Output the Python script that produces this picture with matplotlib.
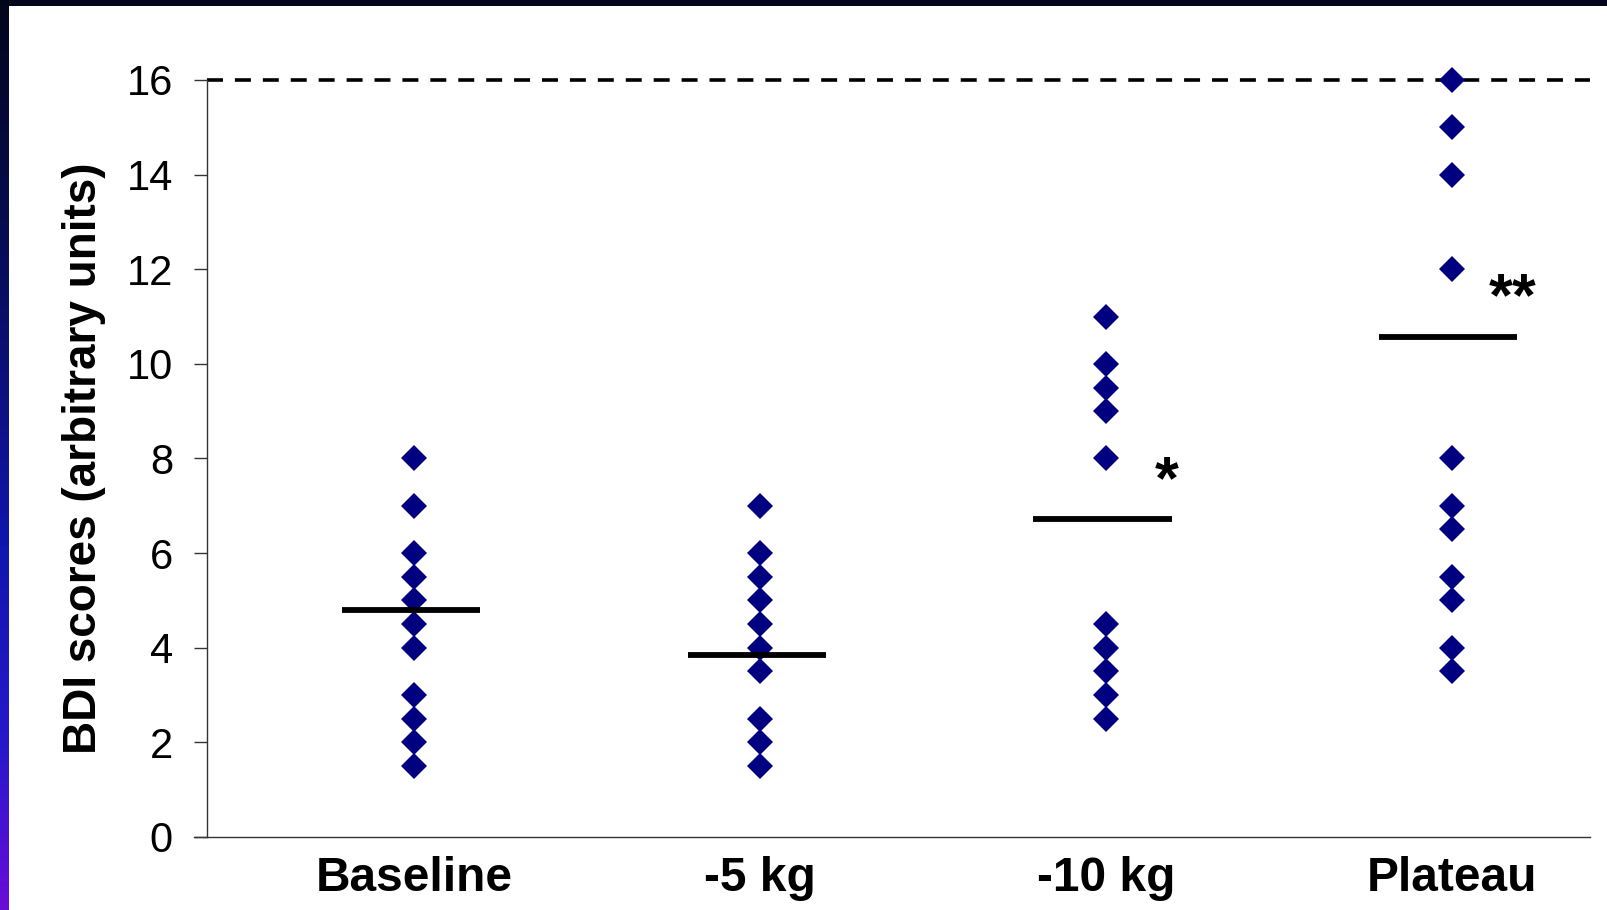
import numpy as np
import matplotlib.pyplot as plt
from matplotlib.colors import LinearSegmentedColormap
from matplotlib.patches import Rectangle

plt.rcParams['font.family'] = ['Liberation Sans', 'DejaVu Sans']
plt.rcParams['lines.scale_dashes'] = False

# data
groups = ['Baseline', '-5 kg', '-10 kg', 'Plateau']
baseline = [8, 7, 6, 5.5, 5, 4.5, 4, 3, 2.5, 2, 1.5]
minus5 = [7, 6, 5.5, 5, 4.5, 4, 3.5, 2.5, 2, 1.5]
minus10 = [11, 10, 9.5, 9, 8, 4.5, 4, 3.5, 3, 2.5]
plateau = [16, 15, 14, 12, 8, 7, 6.5, 5.5, 5, 4, 3.5]
means = [4.8, 3.85, 6.72, 10.56]
stars = ['', '', '*', '**']
star_y = [0, 0, 7.17, 11.02]
cutoff = 16

W, H = 1608, 910
fig = plt.figure(figsize=(W / 100, H / 100), dpi=100)
fig.patch.set_facecolor('white')

# slide frame: dark top band and gradient strip on the left
fig.patches.append(Rectangle((0, 1 - 6 / H), 1, 6 / H, transform=fig.transFigure,
                             facecolor='#02061a', edgecolor='none', zorder=0))
strip = fig.add_axes([0, 0, 9 / W, 1 - 6 / H])
cmap = LinearSegmentedColormap.from_list(
    'frame', [(0, '#03061c'), (0.3, '#090d5e'), (0.6, '#1016ae'),
              (0.82, '#2818cc'), (1, '#6a0cd8')])
strip.imshow(np.linspace(0, 1, 256)[:, None], aspect='auto', cmap=cmap)
strip.axis('off')

ax = fig.add_axes([207 / W, 1 - 837 / H, (1590 - 207) / W, (837 - 80) / H])

xpos = np.arange(1, len(groups) + 1)
for x, vals in zip(xpos, [baseline, minus5, minus10, plateau]):
    ax.plot([x] * len(vals), vals, linestyle='none', marker='D', markersize=13,
            color='#000080', markeredgewidth=0, clip_on=False, zorder=3)

ax.hlines(means, xpos - 0.21, xpos + 0.19, color='black', linewidth=4.2, zorder=4)
ax.axhline(cutoff, color='black', linewidth=2.6, dashes=(11.5, 8.6),
           clip_on=False, zorder=2)

for x, s, y in zip(xpos, stars, star_y):
    if s:
        ax.text(x + 0.175, y, s, fontsize=44, fontweight='bold',
                ha='center', va='baseline')

ax.set_xlim(0.4, 4.4)
ax.set_ylim(0, 16)
ax.set_yticks(range(0, 17, 2))
ax.set_xticks(xpos)
ax.set_xticklabels(groups, fontsize=34.5, fontweight='bold')
ax.tick_params(axis='x', length=0, pad=14)
ax.tick_params(axis='y', length=9.5, width=1, pad=15, labelsize=30, color='#333333')

for side in ['top', 'right']:
    ax.spines[side].set_visible(False)
for side in ['left', 'bottom']:
    ax.spines[side].set_color('#333333')
    ax.spines[side].set_linewidth(1)
ax.spines['bottom'].set_bounds(0.4 - 13 / 345, 4.4)

ax.set_ylabel('BDI scores (arbitrary units)', fontsize=33, fontweight='bold',
              labelpad=15)

fig.savefig('out.png', dpi=100)
